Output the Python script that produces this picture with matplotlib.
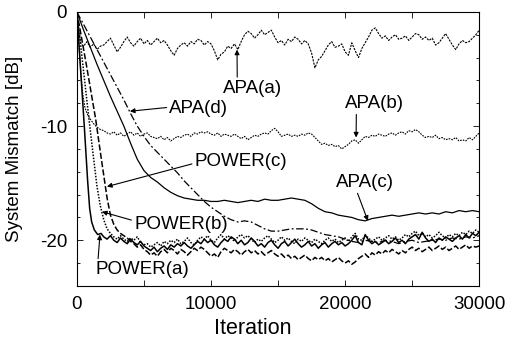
import numpy as np
import matplotlib
matplotlib.use("Agg")
import matplotlib.pyplot as plt
from matplotlib.ticker import MultipleLocator

plt.rcParams['font.family'] = ['Liberation Sans', 'DejaVu Sans']
plt.rcParams['axes.unicode_minus'] = False

# ---------------- data ----------------
GRID_START, GRID_END = 2000, 30000

# APA(a)
apa_a_early_x = [0, 100, 200, 300, 500, 750, 1000, 1250, 1500, 1750]
apa_a_early_y = [0, -1.2, -2.2, -2.8, -3.0, -2.6, -3.1, -2.8, -3.3, -3.0]
apa_a_grid = [-2.9, -2.6, -2.3, -2.9, -3.5,
              -3.1, -2.6, -2.2, -2.7,
              -3.0, -2.6, -2.3, -2.8,
              -2.5, -2.9, -2.6, -2.3,
              -2.7, -2.5, -2.9, -3.4,
              -3.8, -3.2, -2.9, -2.7,
              -3.0, -2.6, -2.8, -2.4,
              -2.5, -2.9, -2.6, -2.8,
              -3.4, -4.2, -3.7, -3.5,
              -3.0, -3.2, -2.8, -3.3,
              -2.6, -2.0, -1.7, -1.9,
              -2.3, -2.0, -1.6, -2.0,
              -1.8, -1.6, -2.2, -2.7,
              -2.5, -2.9, -2.4, -2.6,
              -2.2, -2.4, -2.8, -2.5,
              -2.8, -3.6, -4.9, -4.2,
              -3.9, -3.4, -2.9, -2.6,
              -3.1, -3.0, -2.8, -3.5,
              -3.8, -2.7, -3.4, -4.0,
              -3.2, -2.7, -2.2, -1.6,
              -1.4, -1.9, -2.3, -2.1,
              -2.5, -2.2, -2.0, -2.4,
              -2.3, -2.1, -2.5, -2.2,
              -1.9, -2.0, -2.4, -2.2,
              -2.5, -2.3, -2.9, -2.7,
              -2.3, -1.9, -2.4, -2.9,
              -3.3, -2.8, -2.5, -2.7,
              -2.6, -2.3, -2.0, -1.6]

# APA(b)
apa_b_early_x = [0, 150, 300, 450, 600, 800, 1000, 1250, 1500, 1750]
apa_b_early_y = [0, -3.0, -5.5, -7.3, -8.4, -9.0, -9.4, -9.8, -10.1, -10.3]
apa_b_grid = [-10.4, -10.6, -10.7, -10.5, -10.8,
              -10.6, -10.9, -10.7, -10.5,
              -10.8, -10.6, -10.9, -10.7,
              -10.6, -10.9, -11.0, -11.1,
              -10.9, -11.2, -11.0, -11.3,
              -11.1, -10.9, -11.0, -10.8,
              -10.7, -10.9, -10.6, -10.7,
              -10.5, -10.6, -10.5, -10.7,
              -10.8, -10.6, -10.9, -10.7,
              -10.8, -10.9, -10.7, -10.9,
              -11.1, -10.9, -11.2, -11.0,
              -10.8, -10.9, -10.7, -10.6,
              -10.7, -10.4, -10.2, -10.5,
              -10.9, -10.8, -10.7, -10.9,
              -10.8, -10.9, -10.7, -10.8,
              -10.6, -10.7, -11.0, -11.3,
              -11.6, -11.5, -11.7, -11.6,
              -11.8, -11.7, -12.0, -11.8,
              -11.6, -11.3, -11.2, -11.5,
              -11.2, -10.9, -11.0, -10.8,
              -10.9, -10.7, -10.8, -10.9,
              -10.7, -10.6, -10.8, -10.6,
              -10.5, -10.7, -10.4, -10.5,
              -10.3, -10.5, -10.8, -11.0,
              -10.9, -11.0, -10.8, -11.1,
              -11.0, -11.2, -11.1, -11.2,
              -11.0, -11.3, -11.2, -11.3,
              -11.0, -11.2, -10.9, -10.6]

# APA(c)
apa_c_early_x = [0, 500, 1000, 1500]
apa_c_early_y = [0, -1.6, -3.1, -4.6]
apa_c_grid = [-6.0, -7.4, -8.7, -10.0, -11.5, -12.9, -13.9, -14.5, -14.9,
              -15.4, -15.8, -16.1, -16.3, -16.4, -16.5, -16.5, -16.6, -16.6,
              -16.5, -16.6, -16.7, -16.6, -16.5, -16.6, -16.4, -16.5, -16.5,
              -16.4, -16.3, -16.4, -16.5, -16.8, -17.2, -17.5, -17.6, -17.8,
              -17.9, -18.0, -18.2, -18.3, -18.1, -18.0, -17.9, -17.8, -17.9,
              -17.8, -17.7, -17.6, -17.7, -17.6, -17.7, -17.5, -17.6, -17.4,
              -17.5, -17.4, -17.5]

# APA(d)
apa_d_early_x = [0, 500, 1000, 1500]
apa_d_early_y = [0, -1.1, -2.2, -3.3]
apa_d_grid = [-4.4, -5.5, -6.6, -7.7, -8.9, -10.0, -10.9, -11.7, -12.3,
              -12.9, -13.5, -14.1, -14.8, -15.4, -16.0, -16.6, -17.1, -17.5,
              -17.9, -18.2, -18.4, -18.3, -18.4, -18.7, -19.0, -19.2, -19.2,
              -19.1, -19.0, -19.0, -19.0, -19.1, -19.3, -19.5, -19.6, -19.7,
              -19.9, -20.1, -20.2, -20.0, -20.1, -20.2, -20.0, -20.1, -20.3,
              -20.1, -20.0, -20.2, -20.1, -20.0, -19.9, -20.0, -19.8, -19.9,
              -19.7, -19.8, -19.6]

# POWER(a)
pow_a_early_x = [0, 300, 550, 800, 950, 1100, 1300, 1550, 1800]
pow_a_early_y = [0, -5.5, -10.0, -14.8, -17.2, -18.4, -19.1, -19.5, -19.4]
pow_a_grid = [-19.7, -19.9, -19.6, -20.0, -20.2,
              -19.8, -20.1, -20.3, -19.9,
              -20.2, -20.4, -20.1, -20.5,
              -20.7, -20.9, -20.6, -21.0,
              -20.7, -20.5, -20.8, -20.4,
              -20.6, -20.3, -20.5, -20.2,
              -20.5, -20.7, -20.4, -20.1,
              -20.3, -19.9, -20.2, -20.0,
              -20.4, -20.6, -20.2, -19.9,
              -20.1, -19.7, -19.9, -20.3,
              -20.0, -20.4, -20.2, -19.8,
              -20.1, -20.5, -20.3, -20.6,
              -20.2, -20.0, -20.4, -20.7,
              -20.3, -20.1, -20.5, -20.2,
              -19.9, -20.3, -20.6, -20.4,
              -20.1, -20.5, -20.3, -20.7,
              -20.4, -20.2, -20.6, -20.3,
              -20.1, -20.4, -20.2, -20.5,
              -20.3, -20.0, -19.6, -20.2,
              -20.4, -19.5, -20.0, -20.3,
              -20.1, -20.4, -20.2, -20.0,
              -20.3, -20.1, -19.8, -20.2,
              -20.0, -20.3, -19.9, -19.7,
              -19.5, -19.9, -19.3, -19.8,
              -20.1, -19.9, -20.2, -19.8,
              -20.0, -19.7, -19.9, -20.1,
              -19.8, -19.6, -19.9, -19.5,
              -19.8, -19.4, -19.6, -19.3]

# POWER(b)
pow_b_early_x = [0, 450, 900, 1200, 1500, 1750]
pow_b_early_y = [0, -4.7, -9.4, -12.4, -15.3, -17.0]
pow_b_grid = [-18.2, -19.0, -19.4, -19.7, -19.9,
              -19.6, -19.9, -20.1, -19.8,
              -20.0, -19.7, -20.2, -20.4,
              -20.3, -20.6, -20.4, -20.2,
              -20.5, -20.1, -20.3, -20.0,
              -20.2, -19.9, -20.3, -20.1,
              -19.8, -20.2, -20.4, -20.0,
              -19.7, -19.9, -19.6, -20.0,
              -20.2, -19.8, -19.5, -19.9,
              -19.6, -19.8, -20.1, -19.7,
              -19.5, -19.8, -19.6, -19.9,
              -20.2, -19.9, -20.1, -19.8,
              -19.6, -19.9, -20.2, -20.0,
              -19.7, -20.0, -19.8, -20.1,
              -20.3, -19.9, -20.1, -19.8,
              -20.0, -20.2, -19.9, -20.1,
              -20.3, -20.0, -19.8, -20.1,
              -19.9, -20.2, -20.0, -19.8,
              -20.1, -19.7, -19.4, -19.9,
              -20.0, -19.6, -19.8, -20.1,
              -19.9, -19.7, -20.0, -19.8,
              -19.6, -19.9, -19.7, -20.0,
              -19.8, -19.5, -19.7, -19.4,
              -19.2, -19.6, -19.4, -19.7,
              -19.5, -19.8, -19.6, -19.3,
              -19.6, -19.8, -19.5, -19.7,
              -19.4, -19.6, -19.3, -19.5,
              -19.2, -19.4, -19.1, -19.3]

# POWER(c)
pow_c_early_x = [0, 700, 1400, 1750]
pow_c_early_y = [0, -4.6, -9.4, -12.3]
pow_c_grid = [-14.3, -16.3, -17.8, -18.6, -19.1,
              -19.4, -19.6, -19.8, -20.1,
              -20.3, -20.6, -20.4, -20.8,
              -21.0, -21.3, -21.1, -21.4,
              -21.0, -20.8, -21.1, -20.7,
              -20.9, -21.2, -20.8, -21.0,
              -21.3, -21.0, -20.7, -20.9,
              -20.6, -20.8, -21.1, -21.4,
              -21.2, -21.5, -21.0, -20.7,
              -20.9, -21.1, -20.8, -21.0,
              -21.3, -21.0, -20.8, -21.1,
              -20.9, -21.2, -21.0, -21.3,
              -21.1, -20.9, -21.2, -21.4,
              -21.2, -21.5, -21.3, -21.6,
              -21.4, -21.7, -21.5, -21.3,
              -21.6, -21.8, -21.5, -21.7,
              -21.5, -21.8, -21.6, -21.9,
              -21.7, -21.5, -21.8, -22.0,
              -21.8, -22.1, -21.9, -21.6,
              -21.4, -21.2, -21.5, -21.1,
              -21.3, -21.0, -21.2, -20.9,
              -21.1, -20.8, -21.0, -21.2,
              -20.9, -21.1, -20.8, -20.6,
              -20.9, -20.7, -21.0, -20.8,
              -20.6, -20.9, -20.7, -20.5,
              -20.8, -20.6, -20.9, -20.7,
              -20.5, -20.8, -20.6, -20.4,
              -20.7, -20.5, -20.6, -20.5]

x_ticks = [0, 10000, 20000, 30000]
y_ticks = [0, -10, -20]


def series(early_x, early_y, grid):
    gx = np.linspace(GRID_START, GRID_END, len(grid))
    return np.concatenate([early_x, gx]), np.concatenate([early_y, grid])


fig = plt.figure(figsize=(5.06, 3.40), dpi=100)
ax = fig.add_axes([0.152, 0.159, 0.795, 0.806])

curves = [
    (apa_a_early_x, apa_a_early_y, apa_a_grid, (0, (2, 1)), 0.8),
    (apa_b_early_x, apa_b_early_y, apa_b_grid, (0, (1.5, 1)), 0.8),
    (apa_c_early_x, apa_c_early_y, apa_c_grid, '-', 0.9),
    (apa_d_early_x, apa_d_early_y, apa_d_grid, (0, (6, 2, 1.5, 2)), 0.9),
    (pow_a_early_x, pow_a_early_y, pow_a_grid, '-', 1.1),
    (pow_b_early_x, pow_b_early_y, pow_b_grid, (0, (1, 1)), 1.1),
    (pow_c_early_x, pow_c_early_y, pow_c_grid, (0, (4, 1.5)), 1.1),
]
for ex, ey, g, ls, w in curves:
    x, y = series(ex, ey, g)
    ax.plot(x, y, color='black', lw=w, linestyle=ls)

ax.set_xlim(0, 30000)
ax.set_ylim(-24, 0)
ax.set_xticks(x_ticks)
ax.set_yticks(y_ticks)
ax.set_xticklabels([str(v) for v in x_ticks])
ax.set_yticklabels([str(v) for v in y_ticks])
ax.xaxis.set_minor_locator(MultipleLocator(5000))
ax.yaxis.set_minor_locator(MultipleLocator(2))
ax.tick_params(which='both', direction='in', top=True, right=True, width=0.6)
ax.tick_params(which='major', length=4, labelsize=13.5, pad=7)
ax.tick_params(which='minor', length=2.5)
ax.tick_params(axis='x', which='minor', length=4)
for s in ax.spines.values():
    s.set_linewidth(0.8)

ax.set_xlabel('Iteration', fontsize=15.5)
ax.xaxis.set_label_coords(0.438, -0.118)
ax.set_ylabel('System Mismatch [dB]', fontsize=13.5)
ax.yaxis.set_label_coords(-0.135, 0.5)

arrow = dict(arrowstyle='-|>', color='black', lw=0.8, mutation_scale=7,
             shrinkA=0, shrinkB=0)
fs = 13.5
ax.annotate('APA(a)', xy=(11940, -3.3), xytext=(13060, -6.7), fontsize=fs,
            ha='center', va='center', arrowprops=dict(arrow, relpos=(0.25, 1.0)))
ax.annotate('APA(d)', xy=(3950, -8.7), xytext=(9100, -8.5), fontsize=fs,
            ha='center', va='center', arrowprops=dict(arrow, relpos=(0.0, 0.6)))
ax.annotate('APA(b)', xy=(20820, -11.0), xytext=(22160, -8.0), fontsize=fs,
            ha='center', va='center', arrowprops=dict(arrow, relpos=(0.2, 0.0)))
ax.annotate('APA(c)', xy=(21700, -18.3), xytext=(21500, -14.9), fontsize=fs,
            ha='center', va='center', arrowprops=dict(arrow, relpos=(0.35, 0.0)))
ax.annotate('POWER(c)', xy=(2240, -15.3), xytext=(12240, -13.1), fontsize=fs,
            ha='center', va='center', arrowprops=dict(arrow, relpos=(0.0, 0.4)))
ax.annotate('POWER(b)', xy=(1870, -17.5), xytext=(7760, -18.6), fontsize=fs,
            ha='center', va='center', arrowprops=dict(arrow, relpos=(0.0, 0.7)))
ax.annotate('POWER(a)', xy=(1720, -19.5), xytext=(4850, -22.6), fontsize=fs,
            ha='center', va='center', arrowprops=dict(arrow, relpos=(0.03, 1.0)))

fig.savefig('out.png', dpi=100)
